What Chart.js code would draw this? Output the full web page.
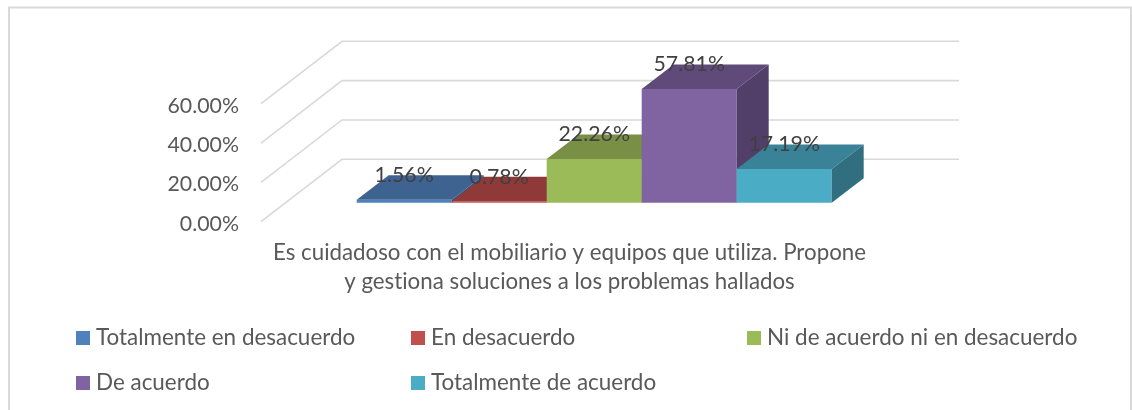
<!DOCTYPE html>
<html lang="es">
<head>
<meta charset="utf-8">
<style>html,body{margin:0;padding:0;background:#fff}canvas{display:block}</style>
<script src="https://cdn.jsdelivr.net/npm/chart.js@4"></script>
</head>
<body>
<canvas id="c" width="1132" height="410"></canvas>
<script>
const categoryLines = ['Es cuidadoso con el mobiliario y equipos que utiliza. Propone', 'y gestiona soluciones a los problemas hallados'];
const seriesNames = ['Totalmente en desacuerdo', 'En desacuerdo', 'Ni de acuerdo ni en desacuerdo', 'De acuerdo', 'Totalmente de acuerdo'];
const seriesValues = [1.56, 0.78, 22.26, 57.81, 17.19];
const frontColors = ['#4F81BD', '#C0504D', '#9BBB59', '#8064A2', '#4BACC6'];
const topColors = ['#3E6391', '#8F3A38', '#788F45', '#5F4A79', '#398298'];
const sideColors = ['#355578', '#7A3230', '#657A3A', '#523F69', '#316F80'];

const FONT = 'Lato, Carlito, Calibri, sans-serif';
const WALL = {dx: 81, dy: -62.4, right: 959};
const BAR_SHIFT = {dx: 24.7, dy: -19};
const BAR_DEPTH = {dx: 32, dy: -24.4};

function poly(ctx, pts, fill) {
  ctx.beginPath();
  pts.forEach((p, i) => i ? ctx.lineTo(p[0], p[1]) : ctx.moveTo(p[0], p[1]));
  ctx.closePath();
  ctx.fillStyle = fill;
  ctx.fill();
}

const scene3d = {
  id: 'scene3d',
  beforeDraw(chart) {
    chart.ctx.textRendering = 'optimizeSpeed';
  },
  beforeDatasetsDraw(chart) {
    const ctx = chart.ctx, y = chart.scales.y, left = chart.chartArea.left;
    // frame
    ctx.save();
    ctx.strokeStyle = '#D9D9D9';
    ctx.lineWidth = 2;
    ctx.beginPath();
    ctx.moveTo(9, 412); ctx.lineTo(9, 7.5); ctx.lineTo(1131, 7.5); ctx.lineTo(1131, 412);
    ctx.stroke();
    // walls
    ctx.strokeStyle = '#D9D9D9';
    ctx.lineWidth = 1.6;
    y.ticks.forEach(t => {
      const py = y.getPixelForValue(t.value);
      ctx.beginPath();
      ctx.moveTo(left, py);
      ctx.lineTo(left + WALL.dx, py + WALL.dy);
      ctx.lineTo(WALL.right, py + WALL.dy);
      ctx.stroke();
    });
    // bars: painted left to right so each one covers the side of its neighbour
    ctx.translate(BAR_SHIFT.dx, BAR_SHIFT.dy);
    chart.data.datasets.forEach((ds, i) => {
      const meta = chart.getDatasetMeta(i);
      meta.controller.draw();
      meta.data.forEach(bar => {
        const l = bar.x - bar.width / 2, r = bar.x + bar.width / 2;
        const d = BAR_DEPTH;
        poly(ctx, [[l, bar.y], [r, bar.y], [r + d.dx, bar.y + d.dy], [l + d.dx, bar.y + d.dy]], topColors[i]);
        poly(ctx, [[r, bar.y], [r + d.dx, bar.y + d.dy], [r + d.dx, bar.base + d.dy], [r, bar.base]], sideColors[i]);
      });
    });
    ctx.restore();
    return false;
  },
  afterDraw(chart) {
    const ctx = chart.ctx;
    ctx.save();
    // value labels
    ctx.font = '21.3px ' + FONT;
    ctx.fillStyle = '#404040';
    ctx.textAlign = 'center';
    ctx.textBaseline = 'middle';
    chart.data.datasets.forEach((ds, i) => {
      chart.getDatasetMeta(i).data.forEach((bar, j) => {
        ctx.fillText(ds.data[j].toFixed(2) + '%', bar.x + BAR_SHIFT.dx, bar.y + BAR_SHIFT.dy + BAR_DEPTH.dy);
      });
    });
    // legend in fixed columns
    const colX = [76, 411, 747], rowY = [338, 383];
    ctx.textAlign = 'left';
    ctx.font = '22.45px ' + FONT;
    chart.data.datasets.forEach((ds, i) => {
      const x = colX[i % 3], yy = rowY[Math.floor(i / 3)];
      ctx.fillStyle = frontColors[i];
      ctx.fillRect(x, yy - 7, 14, 14);
      ctx.fillStyle = '#595959';
      ctx.fillText(ds.label, x + 20, yy);
    });
    ctx.restore();
  }
};

new Chart(document.getElementById('c'), {
  type: 'bar',
  plugins: [scene3d],
  data: {
    labels: [categoryLines],
    datasets: seriesNames.map((name, i) => ({
      label: name,
      data: [seriesValues[i]],
      backgroundColor: frontColors[i],
      borderWidth: 0,
      categoryPercentage: 475 / 617,
      barPercentage: 1
    }))
  },
  options: {
    responsive: false,
    animation: false,
    layout: {padding: {left: 0, top: 103.7, right: 254, bottom: 0}},
    plugins: {legend: {display: false}, title: {display: false}, tooltip: {enabled: false}},
    scales: {
      x: {
        afterFit: s => { s.height = 410 - 221.7; },
        grid: {display: false},
        border: {display: false},
        ticks: {
          padding: 9,
          maxRotation: 0,
          autoSkip: false,
          color: '#595959',
          font: {family: FONT, size: 22.3, lineHeight: 1.3}
        }
      },
      y: {
        min: 0,
        max: 60,
        afterFit: s => { s.width = 261; },
        grid: {display: false},
        border: {display: false},
        ticks: {
          stepSize: 20,
          padding: 14,
          labelOffset: 2,
          color: '#595959',
          font: {family: FONT, size: 21.3},
          callback: v => v.toFixed(2) + '%'
        }
      }
    }
  }
});
</script>
</body>
</html>
